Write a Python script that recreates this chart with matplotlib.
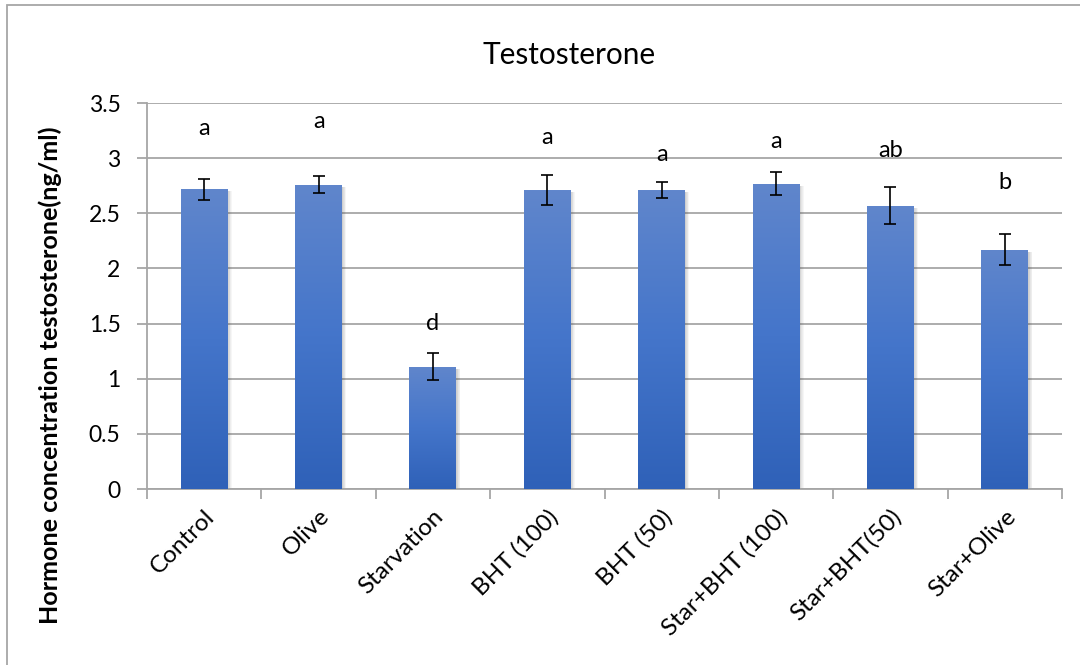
import numpy as np
import matplotlib
matplotlib.use("Agg")
import matplotlib.pyplot as plt
from matplotlib.colors import LinearSegmentedColormap
from matplotlib.patches import Rectangle

plt.rcParams['font.family'] = ['Lato', 'DejaVu Sans']

# data
groups = ['Control', 'Olive', 'Starvation', 'BHT (100)', 'BHT (50)',
          'Star+BHT (100)', 'Star+BHT(50)', 'Star+Olive']
means = [2.72, 2.76, 1.11, 2.71, 2.71, 2.77, 2.57, 2.17]
errors = [0.095, 0.075, 0.12, 0.135, 0.07, 0.10, 0.17, 0.14]
letters = ['a', 'a', 'd', 'a', 'a', 'a', 'ab', 'b']
letter_y = [3.27, 3.33, 1.50, 3.19, 3.03, 3.15, 3.07, 2.78]

fig = plt.figure(figsize=(10.8, 6.65), dpi=100)
ax = fig.add_axes([147/1080, 1 - 489/665, (1062 - 147)/1080, (489 - 103)/665])

# outer chart frame (only left and top edges are visible)
fig.patches.append(Rectangle((7/1080, -1), 3, 1 + (1 - 5/665), transform=fig.transFigure,
                             fill=False, edgecolor='#a6a6a6', linewidth=1.3, zorder=0))

x = np.arange(len(groups))
width = 0.41

# soft shadow to the right of each bar
for xi, m in zip(x, means):
    for k in range(6):
        ax.add_patch(Rectangle((xi - width/2 + 0.005 + k*0.006, 0), width, m - 0.02,
                               facecolor='#555555', alpha=0.05, edgecolor='none', zorder=2))

bars = ax.bar(x, means, width=width, color='none', edgecolor='none', zorder=3)

cmap = LinearSegmentedColormap.from_list('excel_blue', ['#6086cc', '#4475ca', '#2f61b8'])
grad = np.linspace(0, 1, 256).reshape(-1, 1)
for b in bars:
    x0, y0 = b.get_x(), b.get_y()
    w, h = b.get_width(), b.get_height()
    im = ax.imshow(grad, cmap=cmap, aspect='auto', extent=(x0, x0 + w, y0, y0 + h),
                   origin='upper', zorder=3)
    im.set_clip_path(b)

ax.errorbar(x, means, yerr=errors, fmt='none', ecolor='black', elinewidth=1.2,
            capsize=4.5, capthick=1.2, zorder=5)

for xi, lab, ly in zip(x, letters, letter_y):
    ax.text(xi, ly, lab, ha='center', va='center', fontsize=17, color='black', zorder=6)

ax.set_xlim(-0.5, len(groups) - 0.5)
ax.set_ylim(0, 3.5)
ax.set_yticks(np.arange(0, 3.51, 0.5))
ax.set_yticklabels(['0', '0.5', '1', '1.5', '2', '2.5', '3', '3.5'], fontsize=16.5)
ax.yaxis.grid(True, color='#a6a6a6', linewidth=1.3, zorder=0)
ax.set_axisbelow(True)

ax.set_xticks(x)
ax.set_xticklabels(groups, rotation=45, ha='right', va='top', rotation_mode='anchor', fontsize=17.5)
ax.tick_params(axis='x', length=0, pad=12)
ax.set_xticks(np.arange(-0.5, len(groups), 1), minor=True)
ax.tick_params(axis='x', which='minor', length=7, color='#a6a6a6', width=1.3)
ax.tick_params(axis='y', length=7, color='#a6a6a6', width=1.3, pad=12)

for s in ['top', 'right']:
    ax.spines[s].set_visible(False)
for s in ['left', 'bottom']:
    ax.spines[s].set_color('#a6a6a6')
    ax.spines[s].set_linewidth(1.3)

ylab = fig.text(50/1080, 1 - 375/665, 'Hormone concentration testosterone(ng/ml)', rotation=90,
                ha='center', va='center', fontsize=16.5, fontweight='bold')
title = fig.text(569/1080, 1 - 55/665, 'Testosterone', ha='center', va='center', fontsize=21.5)

# scale the two long texts so they span the same length as in the picture
fig.canvas.draw()
r = fig.canvas.get_renderer()
ylab.set_fontsize(16.5 * 496 / ylab.get_window_extent(r).height)
title.set_fontsize(21.5 * 173 / title.get_window_extent(r).width)

fig.savefig('out.png', dpi=100)
